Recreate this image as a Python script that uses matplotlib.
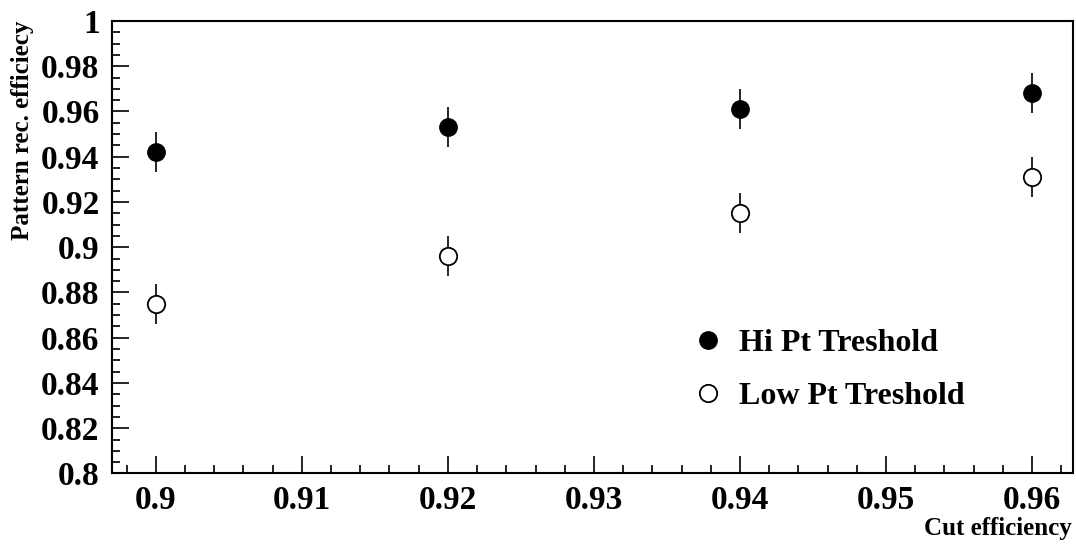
import matplotlib
matplotlib.use("Agg")
import matplotlib.pyplot as plt
from matplotlib.lines import Line2D
from matplotlib.ticker import MultipleLocator

# ── data ──────────────────────────────────────────────────────────────────────
cut_eff = [0.90, 0.92, 0.94, 0.96]
hi_pt   = [0.942, 0.953, 0.961, 0.968]
low_pt  = [0.875, 0.896, 0.915, 0.931]
hi_err  = [0.0088, 0.0088, 0.0088, 0.0088]
low_err = [0.0088, 0.0088, 0.0088, 0.0088]

x_ticks  = [0.90, 0.91, 0.92, 0.93, 0.94, 0.95, 0.96]
x_labels = ["0.9", "0.91", "0.92", "0.93", "0.94", "0.95", "0.96"]
y_ticks  = [0.80, 0.82, 0.84, 0.86, 0.88, 0.90, 0.92, 0.94, 0.96, 0.98, 1.00]
y_labels = ["0.8", "0.82", "0.84", "0.86", "0.88", "0.9",
            "0.92", "0.94", "0.96", "0.98", "1"]

LABEL_HI  = "Hi Pt Treshold"
LABEL_LOW = "Low Pt Treshold"

plt.rcParams["font.family"] = ["Liberation Serif", "DejaVu Serif"]
plt.rcParams["font.weight"] = "bold"

fig = plt.figure(figsize=(10.76, 5.45), dpi=100)
ax = fig.add_axes([0.1041, 0.1312, 0.8931, 0.8303])

ax.errorbar(cut_eff, hi_pt, yerr=hi_err, fmt="o", color="black",
            ms=12.5, mfc="black", mec="black", elinewidth=1.2, capsize=0)
ax.errorbar(cut_eff, low_pt, yerr=low_err, fmt="o", color="black",
            ms=12.5, mfc="white", mec="black", mew=1.3, elinewidth=1.2,
            capsize=0)

ax.set_xlim(0.897, 0.9628)
ax.set_ylim(0.8, 1.0)
ax.xaxis.set_minor_locator(MultipleLocator(0.002))
ax.yaxis.set_minor_locator(MultipleLocator(0.005))
ax.set_xticks(x_ticks)
ax.set_xticklabels(x_labels)
ax.set_yticks(y_ticks)
ax.set_yticklabels(y_labels)

ax.tick_params(which="both", direction="in", top=False, right=False,
               labelsize=24, width=1.2)
ax.tick_params(which="major", length=12)
ax.tick_params(which="minor", length=5.5)
ax.tick_params(axis="x", pad=8)
ax.tick_params(axis="y", pad=9)
for lbl in ax.get_xticklabels() + ax.get_yticklabels():
    lbl.set_fontweight("bold")
for sp in ax.spines.values():
    sp.set_linewidth(1.5)

fig.text(0.9965, 0.031, "Cut efficiency", ha="right", va="center",
         fontsize=18, fontweight="bold")
fig.text(0.021, 0.9615, "Pattern rec. efficiecy", ha="center", va="top",
         rotation=90, fontsize=18, fontweight="bold")

handles = [
    Line2D([], [], ls="none", marker="o", ms=12.5, mfc="black", mec="black"),
    Line2D([], [], ls="none", marker="o", ms=12.5, mfc="white", mec="black",
           mew=1.3),
]
fig.legend(handles, [LABEL_HI, LABEL_LOW], loc="upper left",
           bbox_to_anchor=(0.6431, 0.397), frameon=False,
           prop={"weight": "bold", "size": 23}, handlelength=1.0,
           handletextpad=0.47, labelspacing=0.74, borderpad=0,
           borderaxespad=0)

fig.savefig("out.png", dpi=100)
